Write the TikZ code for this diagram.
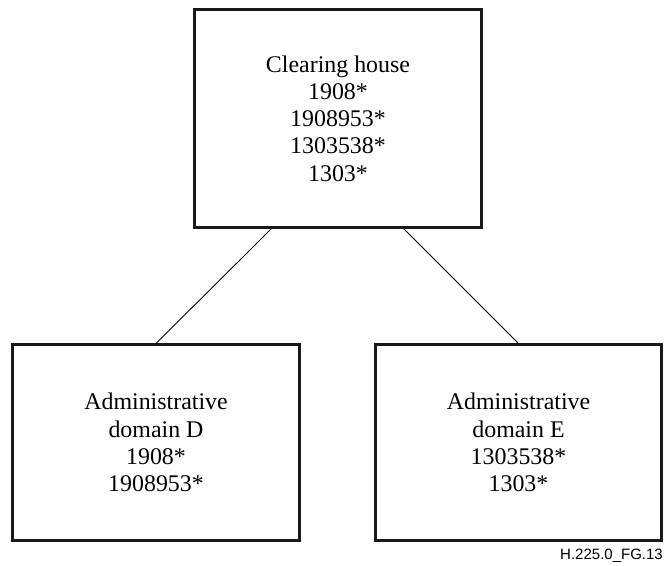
\documentclass[tikz,border=0pt]{standalone}
\usepackage{fontspec}
\setmainfont{Liberation Serif}
\newfontfamily\labelfont{Liberation Sans}
\usetikzlibrary{calc}
\begin{document}
\begin{tikzpicture}[x=1pt,y=-1pt,
  boxnode/.style={draw=black!90, line width=2.2pt, inner sep=0pt, align=center,
    font=\fontsize{23.9}{27.3}\selectfont},
  link/.style={draw=black, line width=0.9pt}]
\useasboundingbox (0,0) rectangle (664,565);
\node[boxnode, minimum width=287pt, minimum height=218pt] (ch) at (338,118.5)
  {Clearing house\\1908*\\1908953*\\1303538*\\1303*};
\node[boxnode, minimum width=287pt, minimum height=196pt] (dd) at (156,442.5)
  {Administrative\\domain D\\1908*\\1908953*};
\node[boxnode, minimum width=286pt, minimum height=196pt] (de) at (518.5,442.5)
  {Administrative\\domain E\\1303538*\\1303*};
\draw[link] ($(ch.south west)!0.27!(ch.south east)$) -- (dd.north);
\draw[link] ($(ch.south west)!0.727!(ch.south east)$) -- (de.north);
\node[anchor=base east, inner sep=0pt, font=\labelfont\fontsize{15}{18}\selectfont] (lbl) at (663,559) {H.225.0\_FG.13};
\end{tikzpicture}
\end{document}
